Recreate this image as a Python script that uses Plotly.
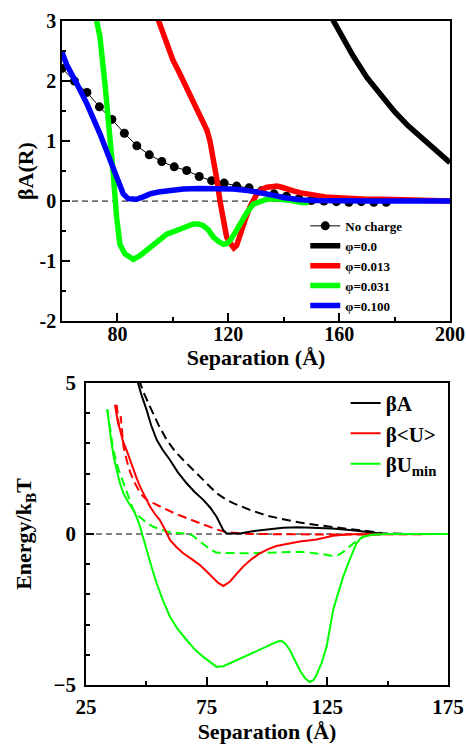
import plotly.graph_objects as go

# ---------- top panel data ----------
nc_x = [60, 64.5, 69, 73.5, 78, 82.5, 87, 91.5, 96, 100.5, 105, 109.5, 114, 118.5, 123, 127.5,
        132, 136.5, 141, 145.5, 150, 154.5, 159, 163.5, 168, 172.5, 177]
nc_y = [2.21, 2.0, 1.81, 1.57, 1.36, 1.13, 0.92, 0.77, 0.66, 0.57, 0.51, 0.41, 0.34, 0.30, 0.25, 0.22,
        0.17, 0.12, 0.08, 0.04, 0.01, 0.0, -0.01, -0.02, -0.01, -0.02, -0.02]

p0_x = [157.0, 160, 165, 170, 175, 180, 185, 190, 195, 200]
p0_y = [3.08, 2.82, 2.42, 2.06, 1.76, 1.49, 1.25, 1.04, 0.84, 0.64]

p013_x = [94.5, 96, 97.8, 100, 102, 103.8, 105.5, 107.4, 109.2, 111, 112.3, 113.4, 114.3, 115.2, 116.1,
          117, 118.2, 119.4, 121, 122, 123, 124.2, 126, 127.8, 129, 130.3, 132, 133.9, 135.7, 137.5,
          139.3, 141, 143.5, 145.8, 148.8, 151.8, 155, 157.9, 163.9, 170, 176, 182, 190, 200]
p013_y = [3.05, 2.84, 2.62, 2.35, 2.17, 2.0, 1.82, 1.67, 1.5, 1.34, 1.18, 1.0, 0.8, 0.56, 0.3,
          0.0, -0.3, -0.6, -0.72, -0.78, -0.74, -0.55, -0.32, -0.1, 0.03, 0.12, 0.19, 0.23, 0.24, 0.25,
          0.23, 0.2, 0.17, 0.14, 0.11, 0.09, 0.07, 0.06, 0.04, 0.03, 0.03, 0.02, 0.01, 0.0]

p031_x = [72.3, 73.7, 75.5, 77.3, 78.5, 79.7, 80.9, 82.7, 84.2, 85.7, 88.1, 91.8, 94.8, 97.8, 100.2,
          102.6, 105, 107.4, 109.2, 111, 112.8, 114.6, 116.4, 118.2, 119.4, 120.6, 122.4, 124.2, 126.6,
          129, 131.4, 133.9, 136.9, 139.9, 142.9, 145.9, 149]
p031_y = [3.05, 2.73, 1.95, 1.12, 0.45, -0.27, -0.72, -0.88, -0.94, -0.97, -0.91, -0.77, -0.66, -0.55,
          -0.51, -0.47, -0.42, -0.38, -0.38, -0.41, -0.48, -0.6, -0.67, -0.72, -0.71, -0.66, -0.53,
          -0.38, -0.2, -0.05, 0.0, 0.03, 0.04, 0.03, 0.01, -0.02, -0.03]

p100_x = [60, 61.8, 65.4, 69, 73.7, 77.3, 79.7, 82.1, 83.9, 85.4, 86.9, 89.3, 91.8, 94.8, 97.8, 103.8,
          109.8, 115.8, 121.8, 127.8, 130.8, 133.9, 136.9, 139.9, 142.9, 145.9, 152, 160, 170, 180, 190, 200]
p100_y = [2.48, 2.26, 1.95, 1.62, 1.12, 0.67, 0.39, 0.12, 0.04, 0.03, 0.03, 0.07, 0.12, 0.15, 0.17, 0.2,
          0.21, 0.21, 0.2, 0.17, 0.15, 0.12, 0.09, 0.06, 0.04, 0.02, 0.01, 0.0, 0.0, 0.0, 0.0, 0.0]

# ---------- bottom panel data ----------
bA_x = [46.2, 48.0, 50.1, 52.0, 54.3, 56.8, 59.8, 63.0, 66.7, 70.0, 73.6, 76.5, 79.1, 80.6, 81.9, 83.2,
        88.8, 94.0, 99.8, 106.7, 113.0, 120.5, 127.0, 134.3, 141.2, 148.1, 160, 175]
bA_y = [5.1, 4.6, 4.11, 3.6, 3.12, 2.78, 2.45, 2.05, 1.68, 1.39, 1.13, 0.87, 0.57, 0.35, 0.13, 0.02,
        0.02, 0.09, 0.15, 0.21, 0.22, 0.21, 0.18, 0.13, 0.06, 0.01, 0.0, 0.0]

bA_d_x = [47.0, 49.0, 51.5, 55.0, 58.4, 61.8, 65.3, 68.8, 72.2, 75.6, 79.1, 82.5, 86, 92.9, 99.8, 106.7,
          113.6, 120.5, 127.4, 134.3, 141.2, 148.1, 160, 175]
bA_d_y = [5.1, 4.66, 4.22, 3.62, 3.12, 2.75, 2.45, 2.17, 1.9, 1.62, 1.35, 1.17, 1.02, 0.8, 0.61, 0.49,
          0.38, 0.3, 0.22, 0.16, 0.1, 0.02, 0.0, 0.0]

bU_x = [37, 38.2, 39.1, 40.2, 41.8, 43.2, 44.6, 46.0, 47.4, 49.5, 51.5, 53.5, 55.6, 57.7, 59.8, 62.5,
        65.3, 68.8, 72.2, 75.0, 77.7, 79.8, 81.9, 84.6, 87.3, 90.1, 93.5, 97, 100.5, 103.9, 108.7,
        113.6, 120.5, 127.4, 134.3, 150, 175]
bU_y = [4.28, 3.7, 3.45, 3.1, 2.78, 2.45, 2.12, 1.84, 1.57, 1.22, 0.91, 0.67, 0.46, 0.15, -0.2, -0.44,
        -0.64, -0.83, -1.03, -1.24, -1.47, -1.62, -1.72, -1.58, -1.33, -1.08, -0.84, -0.64, -0.5, -0.4,
        -0.32, -0.25, -0.18, -0.06, -0.01, 0.0, 0.0]

bU_d_x = [37.7, 38.6, 39.4, 40.5, 42.0, 43.3, 44.6, 46.6, 48.7, 50.8, 52.9, 55.6, 58.4, 61.8, 65.3,
          68.8, 72.2, 75.6, 79.1, 83.2, 92.9, 130, 175]
bU_d_y = [4.28, 3.6, 3.9, 2.9, 2.4, 2.05, 1.79, 1.48, 1.24, 1.1, 1.02, 0.91, 0.8, 0.68, 0.57, 0.46,
          0.35, 0.25, 0.15, 0.06, 0.0, -0.02, 0.0]

bUmin_x = [33.8, 34.6, 35.6, 36.6, 37.7, 39.0, 40.5, 42.5, 44.6, 46.0, 47.4, 48.7, 50.1, 52.2, 54.3,
           57.0, 59.8, 63.0, 66.7, 70.0, 73.6, 76.5, 79.1, 81.9, 85.0, 88.8, 93.0, 97, 100.0, 102.6,
           104.5, 106, 107.8, 109.5, 111.5, 113.6, 115.8, 117.7, 119.2, 120.5, 122.6, 124.7, 126.0,
           127.4, 129.5, 131.6, 134.4, 137.1, 138.5, 139.9, 144, 150, 175]
bUmin_y = [4.13, 3.6, 3.0, 2.5, 2.12, 1.7, 1.35, 1.05, 0.8, 0.55, 0.24, -0.14, -0.53, -1.1, -1.64,
           -2.22, -2.74, -3.15, -3.51, -3.82, -4.07, -4.26, -4.4, -4.38, -4.27, -4.12, -3.98, -3.85,
           -3.72, -3.62, -3.56, -3.54, -3.65, -3.85, -4.18, -4.51, -4.78, -4.9, -4.84, -4.67, -4.28,
           -3.73, -3.15, -2.52, -1.95, -1.41, -0.82, -0.31, -0.17, -0.09, -0.02, 0.0, 0.0]

bUmin_d_x = [33.8, 35.0, 36.3, 38.4, 40.5, 42.5, 44.6, 46.6, 48.7, 50.8, 52.9, 55.6, 58.4, 61.8, 65.3,
             68.8, 71.2, 73.6, 76.3, 79.1, 86, 92.9, 99.8, 106.7, 113.6, 117.0, 120.5, 124.0, 127.4,
             129.5, 131.6, 133.6, 135.7, 137.8, 139.9, 144, 150, 175]
bUmin_d_y = [4.13, 3.4, 2.78, 2.15, 1.68, 1.2, 0.8, 0.6, 0.46, 0.34, 0.24, 0.15, 0.08, 0.04, 0.02,
             -0.03, -0.18, -0.36, -0.5, -0.62, -0.64, -0.64, -0.62, -0.61, -0.59, -0.61, -0.64, -0.68,
             -0.73, -0.7, -0.59, -0.45, -0.31, -0.18, -0.09, -0.02, 0.0, 0.0]

FONT = "Liberation Serif"
BLACK, RED, GREEN, BLUE = "#000000", "#ff0000", "#00ff00", "#0000ff"

fig = go.Figure()

# top panel
fig.add_trace(go.Scatter(x=nc_x, y=nc_y, mode="lines+markers", name="No charge",
                         line=dict(color=BLACK, width=1), marker=dict(size=9, color=BLACK),
                         xaxis="x", yaxis="y", legend="legend"))
fig.add_trace(go.Scatter(x=p0_x, y=p0_y, mode="lines", name="φ=0.0",
                         line=dict(color=BLACK, width=5.5), xaxis="x", yaxis="y", legend="legend"))
fig.add_trace(go.Scatter(x=p013_x, y=p013_y, mode="lines", name="φ=0.013",
                         line=dict(color=RED, width=5.5), xaxis="x", yaxis="y", legend="legend"))
fig.add_trace(go.Scatter(x=p031_x, y=p031_y, mode="lines", name="φ=0.031",
                         line=dict(color=GREEN, width=5.5), xaxis="x", yaxis="y", legend="legend"))
fig.add_trace(go.Scatter(x=p100_x, y=p100_y, mode="lines", name="φ=0.100",
                         line=dict(color=BLUE, width=5.5), xaxis="x", yaxis="y", legend="legend"))

# bottom panel
DASH = "9px,5px"
fig.add_trace(go.Scatter(x=bA_d_x, y=bA_d_y, mode="lines", showlegend=False,
                         line=dict(color=BLACK, width=2, dash=DASH), xaxis="x2", yaxis="y2"))
fig.add_trace(go.Scatter(x=bU_d_x, y=bU_d_y, mode="lines", showlegend=False,
                         line=dict(color=RED, width=2, dash=DASH), xaxis="x2", yaxis="y2"))
fig.add_trace(go.Scatter(x=bUmin_d_x, y=bUmin_d_y, mode="lines", showlegend=False,
                         line=dict(color=GREEN, width=2, dash=DASH), xaxis="x2", yaxis="y2"))
fig.add_trace(go.Scatter(x=bA_x, y=bA_y, mode="lines", name="βA",
                         line=dict(color=BLACK, width=2), xaxis="x2", yaxis="y2", legend="legend2"))
fig.add_trace(go.Scatter(x=bU_x, y=bU_y, mode="lines", name="β&lt;U&gt;",
                         line=dict(color=RED, width=2), xaxis="x2", yaxis="y2", legend="legend2"))
fig.add_trace(go.Scatter(x=bUmin_x, y=bUmin_y, mode="lines", name="βU<sub>min</sub>",
                         line=dict(color=GREEN, width=2), xaxis="x2", yaxis="y2", legend="legend2"))

# zero reference lines
fig.add_hline(y=0, line=dict(color=BLACK, width=1, dash="6px,4px"), xref="x", yref="y", layer="below")
fig.add_hline(y=0, line=dict(color=BLACK, width=1, dash="6px,4px"), xref="x2", yref="y2", layer="below")

tickfont_top = dict(family=FONT, size=20, color=BLACK, weight="bold")
tickfont_bot = dict(family=FONT, size=21, color=BLACK, weight="bold")
titlefont = dict(family=FONT, size=22, color=BLACK, weight="bold")
axis_common = dict(showgrid=False, zeroline=False, showline=True, linecolor=BLACK, linewidth=1.5,
                   mirror=True, ticks="inside", tickcolor=BLACK, tickwidth=1.5, ticklen=8,
                   automargin=False)

fig.update_layout(
    width=466, height=749,
    margin=dict(l=62, r=16, t=21, b=64),
    paper_bgcolor="white", plot_bgcolor="white",
    font=dict(family=FONT, color=BLACK),
    xaxis=dict(axis_common, domain=[0, 1], anchor="y", range=[60, 200], tickfont=tickfont_top,
               tickvals=[80, 120, 160, 200], ticktext=["80", "120", "160", "200"],
               minor=dict(tickvals=[100, 140, 180], ticks="inside", ticklen=4, tickcolor=BLACK, tickwidth=1.5),
               ticklabelstandoff=-6,
               title=dict(text="Separation (Å)", font=titlefont, standoff=0)),
    yaxis=dict(axis_common, domain=[0.548, 1.0], anchor="x", range=[-2, 3], tickfont=tickfont_top,
               tickvals=[-2, -1, 0, 1, 2, 3], ticktext=["-2", "-1", "0", "1", "2", "3"],
               minor=dict(tickvals=[-1.5, -0.5, 0.5, 1.5, 2.5], ticks="inside", ticklen=4,
                          tickcolor=BLACK, tickwidth=1.5),
               title=dict(text="βA(R)", font=titlefont, standoff=0)),
    xaxis2=dict(axis_common, domain=[0.0619, 0.9948], anchor="y2", range=[25, 175], tickfont=tickfont_bot,
                tickvals=[25, 75, 125, 175], ticktext=["25", "75", "125", "175"],
                minor=dict(tickvals=[50, 100, 150], ticks="inside", ticklen=4, tickcolor=BLACK, tickwidth=1.5),
                ticklabelstandoff=2,
                title=dict(text="Separation (Å)", font=titlefont, standoff=4)),
    yaxis2=dict(axis_common, domain=[0.0, 0.4548], anchor="x2", range=[-5, 5], tickfont=tickfont_bot,
                tickvals=[-5, 0, 5], ticktext=["−5", "0", "5"],
                minor=dict(tickvals=[-4, -3, -2, -1, 1, 2, 3, 4], ticks="inside", ticklen=4,
                           tickcolor=BLACK, tickwidth=1.5),
                ticklabelstandoff=4,
                title=dict(text="Energy/k<sub>B</sub>T", font=titlefont, standoff=16)),
    legend=dict(x=0.627, y=0.714, xanchor="left", yanchor="top", bgcolor="rgba(0,0,0,0)",
                font=dict(family=FONT, size=13, color=BLACK, weight="bold"),
                tracegroupgap=0, itemwidth=30),
    legend2=dict(x=0.731, y=0.455, xanchor="left", yanchor="top", bgcolor="rgba(0,0,0,0)",
                 font=dict(family=FONT, size=21, color=BLACK, weight="bold"),
                 tracegroupgap=0, itemwidth=30),
)

fig.write_html("out.html")
